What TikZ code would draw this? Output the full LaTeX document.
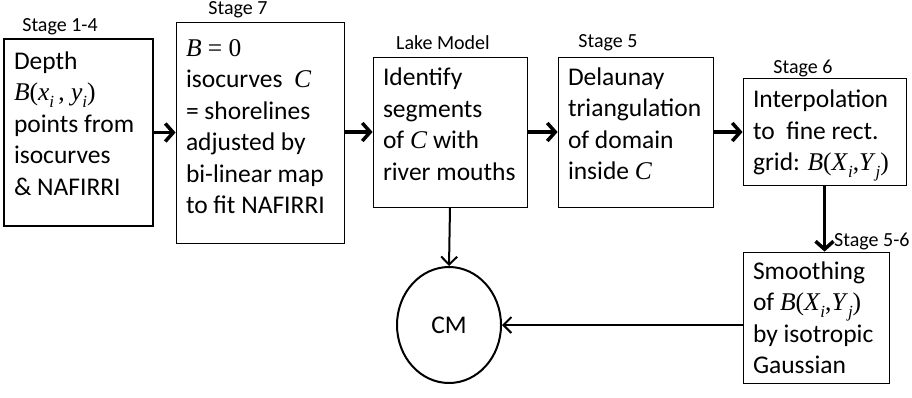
\documentclass[tikz,border=0pt]{standalone}
\usepackage{amsmath}
\usepackage{fontspec}
\setmainfont{Carlito}
\newfontfamily\tnrfont{Liberation Serif}
\usetikzlibrary{arrows.meta}
\usetikzlibrary{shapes.geometric}
\tikzset{
    stagebox/.style={
        draw, line width=#1, rectangle, align=flush left,
        inner xsep=10pt, inner ysep=2pt,
        font=\fontsize{25.5}{31.5}\selectfont
    },
    stagebox/.default=0.8pt,
    lift/.style={execute at end node={\par\vspace*{#1}}},
    sink/.style={execute at begin node={\rule{0pt}{#1}}},
    stagelabel/.style={font=\fontsize{20}{22}\selectfont, inner sep=0pt},
    flow/.style={line width=3.5pt, -{Straight Barb[length=8pt,width=18pt]}},
    thinflow/.style={line width=2pt, -{Straight Barb[length=8pt,width=16pt]}}
}
% Times-like formulas
\newcommand{\tm}[1]{{\tnrfont #1}}
\newcommand{\msub}[1]{\raisebox{-0.28em}{\fontsize{17}{17}\selectfont\itshape #1}}

\begin{document}
\begin{tikzpicture}[x=1pt,y=-1pt]
		\useasboundingbox (0,0) rectangle (912,397);

		% Upper row
		\node[stagebox=2pt, lift=18pt, text width=129pt, minimum height=187pt] (depth) at (78.5,132.5)
			{Depth\\\tm{\textit{B}(\textit{x}\msub{i}\,, \textit{y}\msub{i})}\\points from\\isocurves\\\& NAFIRRI};
		\node[stagebox, lift=12pt, text width=148pt, minimum height=221pt] (shore) at (260,132.5)
			{\tm{\textit{B} = 0}\\isocurves~~\tm{\textit{C}}\\= shorelines\\adjusted by\\bi-linear map\\to fit NAFIRRI};
		\node[stagebox, lift=16pt, text width=134pt, minimum height=150pt] (lake) at (450,132)
			{Identify\\segments\\of \tm{\textit{C}} with\\river mouths};
		\node[stagebox, lift=16pt, text width=135pt, minimum height=150pt] (delaunay) at (635.5,132)
			{Delaunay\\triangulation\\of domain\\inside \tm{\textit{C}}};
		\node[stagebox, sink=26pt, text width=143pt, minimum height=107pt, inner ysep=1pt] (interp) at (824.5,131.5)
			{Interpolation\\to~~fine rect.\\grid: \tm{\textit{B}(\textit{X}\msub{i},\textit{Y}\msub{j})}};

		% Lower row
		\node[stagebox, text width=126pt, minimum height=131pt, inner ysep=1pt] (smooth) at (816,317.5)
			{Smoothing\\of \tm{\textit{B}(\textit{X}\msub{i},\textit{Y}\msub{j})}\\by isotropic\\Gaussian};
		\node[draw, ellipse, line width=2pt, minimum width=104pt, minimum height=116pt,
			font=\fontsize{25.5}{31}\selectfont] (cm) at (449,325) {CM};

		% Stage labels
		\node[stagelabel] (l14) at (60,27) {Stage 1-4};
		\node[stagelabel] (l7) at (238,10) {Stage 7};
		\node[stagelabel] (llake) at (443,43) {Lake Model};
		\node[stagelabel] (l5) at (608,43) {Stage 5};
		\node[stagelabel] (l6) at (803,68) {Stage 6};
		\node[stagelabel, anchor=south west] (l56) at (834,250) {Stage 5-6};

		% Connectors
		\draw[flow] (depth) -- (shore);
		\draw[flow] (shore.east |- lake) -- (lake);
		\draw[flow] (lake) -- (delaunay);
		\draw[flow] (delaunay) -- (interp.west |- delaunay);
		\draw[flow] (interp.south) -- (interp.south |- smooth.north);
		\draw[thinflow] (lake.south) -- (cm.north);
		\draw[thinflow] (smooth.west |- cm.east) -- (cm.east);

	\end{tikzpicture}
\end{document}
